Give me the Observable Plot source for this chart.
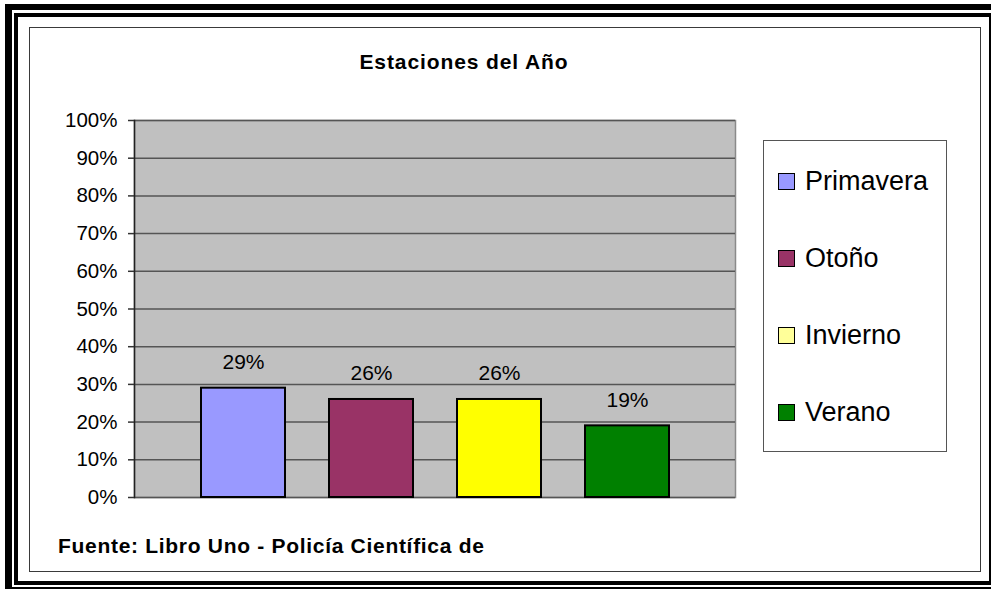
<!DOCTYPE html>
<html>
<head>
<meta charset="utf-8">
<script src="https://cdn.jsdelivr.net/npm/d3@7"></script>
<script src="https://cdn.jsdelivr.net/npm/@observablehq/plot@0.6"></script>
<style>
  html, body { margin: 0; padding: 0; background: #fff; overflow: hidden; }
  body { width: 991px; height: 589px; position: relative; font-family: "Liberation Sans", Arial, sans-serif; }
  .abs { position: absolute; box-sizing: border-box; }
  #outerA { left: 5px; top: 4px; width: 1000px; height: 585px; border-left: 7px solid #000; border-top: 6px solid #000; border-bottom: 2px solid #000; z-index: 0; }
  #outerB { left: 14px; top: 13px; width: 977px; height: 572px; border-left: 4px solid #000; border-top: 4px solid #000; border-right: 2px solid #000; border-bottom: 4px solid #000; z-index: 0; }
  #box { left: 29px; top: 27px; width: 952px; height: 545px; border: 1.5px solid #3a3a3a; background: #fff; z-index: 1; }
  #chart { position: absolute; left: 0; top: 0; z-index: 2; }
  #title { left: 264px; width: 400px; top: 51px; text-align: center; font-weight: bold; font-size: 21px; line-height: 21px; letter-spacing: 0.9px; z-index: 3; }
  #footer { left: 58px; top: 535px; font-weight: bold; font-size: 21px; line-height: 21px; letter-spacing: 0.7px; white-space: nowrap; z-index: 3; }
  #legend { left: 763px; top: 140px; width: 184px; height: 312px; border: 1.5px solid #555; background: #fff; z-index: 3; }
  .item { position: absolute; left: 14px; height: 27px; display: flex; align-items: center; font-size: 27px; line-height: 27px; white-space: nowrap; }
  .sw { width: 17px; height: 17px; box-sizing: border-box; border: 1.5px solid #000; margin-right: 10px; }
</style>
</head>
<body>
<div id="outerA" class="abs"></div>
<div id="outerB" class="abs"></div>
<div id="box" class="abs"></div>
<div id="title" class="abs">Estaciones del Año</div>
<div id="footer" class="abs">Fuente: Libro Uno - Policía Científica de</div>
<div id="legend" class="abs"></div>
<div id="chart"></div>
<script>
const seasons = ["Primavera", "Otoño", "Invierno", "Verano"];
const values = [0.29, 0.26, 0.26, 0.19];
const barColors = ["#9999FF", "#993366", "#FFFF00", "#008000"];
const legendColors = ["#9999FF", "#993366", "#FFFF99", "#008000"];
const yTicks = [0, 0.1, 0.2, 0.3, 0.4, 0.5, 0.6, 0.7, 0.8, 0.9, 1.0];

const data = seasons.map((s, i) => ({season: s, value: values[i], color: barColors[i]}));
const pct = d3.format(".0%");

const plot = Plot.plot({
  width: 991,
  height: 589,
  marginLeft: 134,
  marginRight: 256,
  marginTop: 120,
  marginBottom: 92,
  style: {background: "transparent", fontFamily: "'Liberation Sans', Arial, sans-serif", color: "#000", overflow: "visible"},
  x: {type: "band", domain: seasons, paddingInner: 0.345, paddingOuter: 0.51, axis: null, label: null},
  y: {domain: [0, 1], axis: null, label: null},
  color: {type: "identity"},
  marks: [
    Plot.frame({fill: "#C0C0C0", stroke: "#8a8a8a", strokeWidth: 1.5}),
    Plot.gridY(yTicks, {stroke: "#555", strokeOpacity: 1, strokeWidth: 1.5}),
    Plot.frame({anchor: "left", stroke: "#222", strokeWidth: 1.5}),
    Plot.axisY(yTicks, {label: null, tickFormat: pct, tickSize: 6, tickPadding: 11, fontSize: 20.5, stroke: "#333", strokeWidth: 1.5, fill: "#000"}),
    Plot.barY(data, {x: "season", y: "value", fill: "color", stroke: "#000", strokeWidth: 2}),
    Plot.text(data, {x: "season", y: "value", text: d => pct(d.value), dy: -19, lineAnchor: "bottom", fontSize: 21, fill: "#000"})
  ]
});
document.getElementById("chart").appendChild(plot);

const legend = document.getElementById("legend");
const centers = [40, 117, 194, 271];
seasons.forEach((s, i) => {
  const row = document.createElement("div");
  row.className = "item";
  row.style.top = (centers[i] - 13.5) + "px";
  const sw = document.createElement("div");
  sw.className = "sw";
  sw.style.background = legendColors[i];
  const t = document.createElement("span");
  t.textContent = s;
  row.appendChild(sw);
  row.appendChild(t);
  legend.appendChild(row);
});
</script>
</body>
</html>
